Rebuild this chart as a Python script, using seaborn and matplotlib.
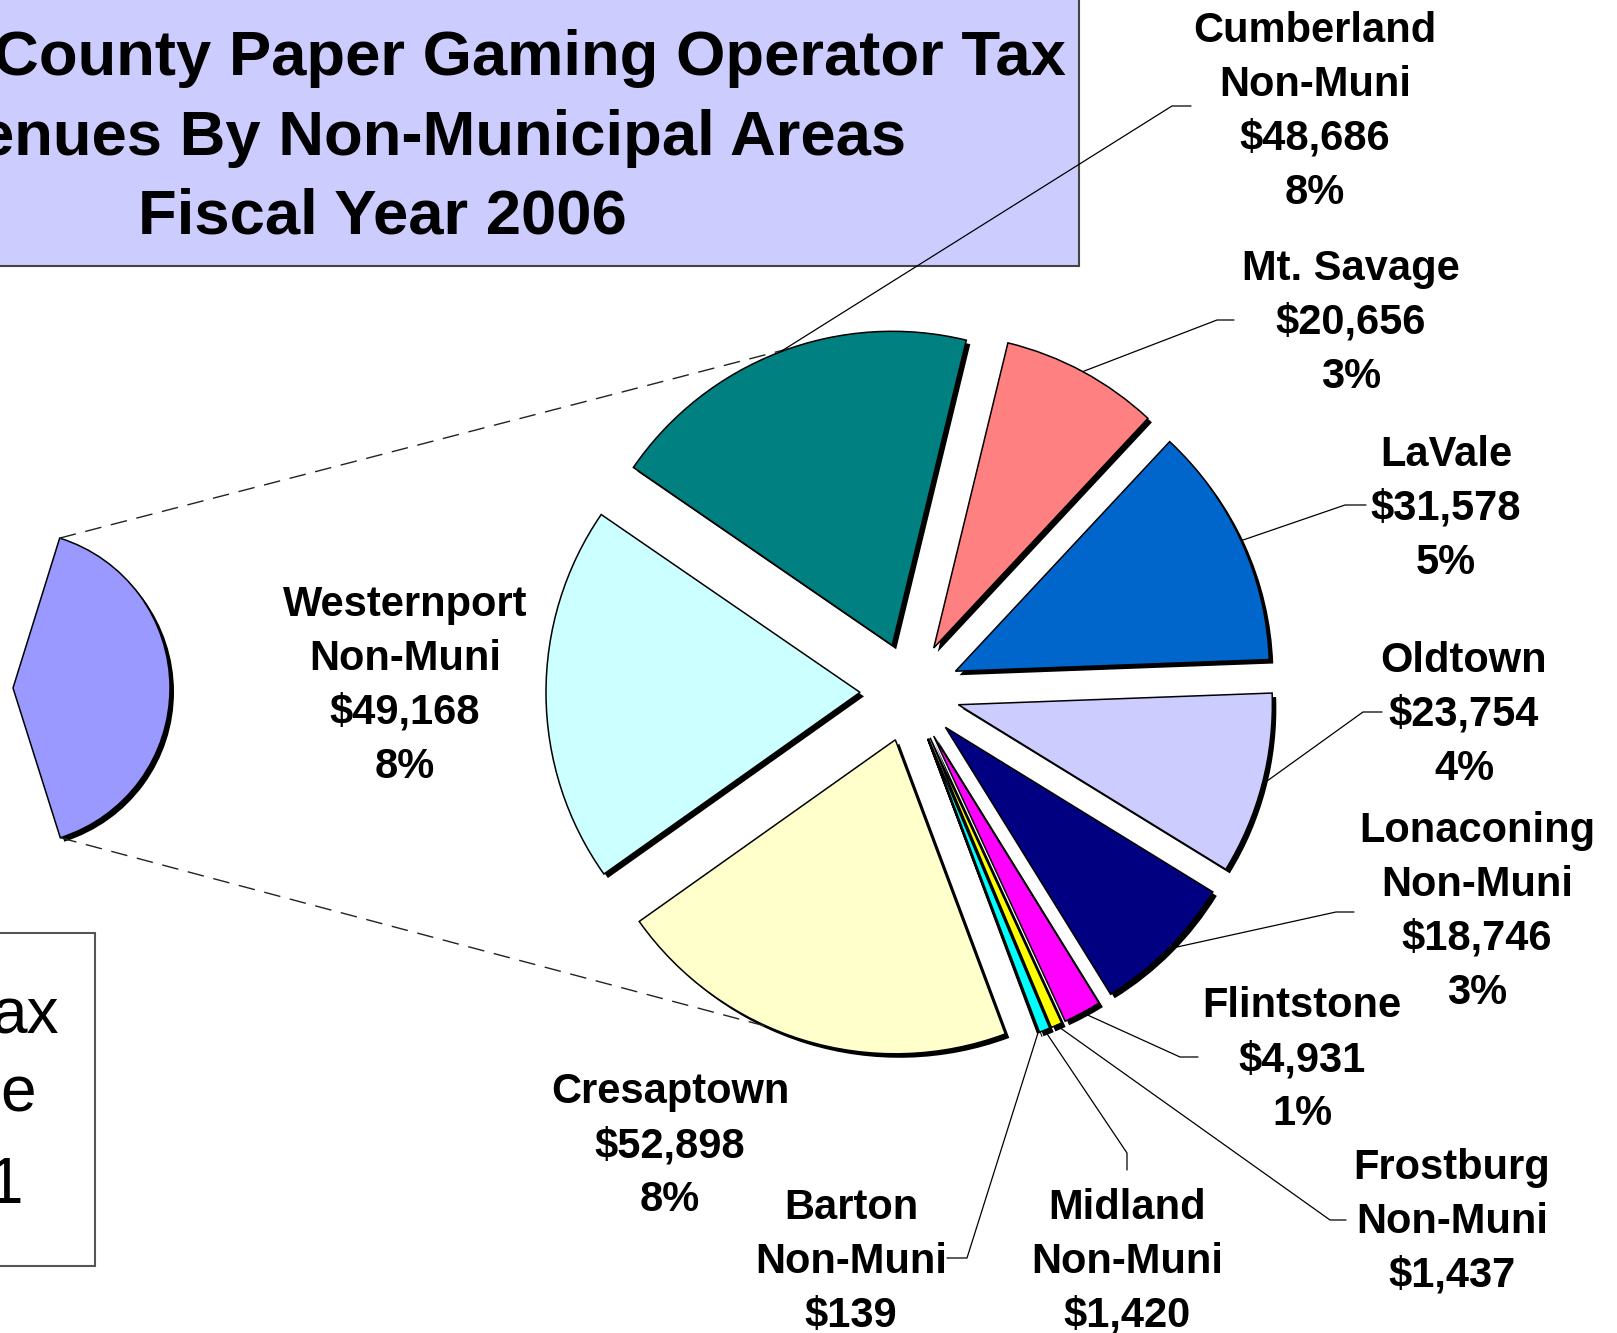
import numpy as np
import matplotlib
matplotlib.use("Agg")
import matplotlib.pyplot as plt
from matplotlib.patches import Rectangle
import seaborn as sns

# ---------------- data ----------------
names = ["Cumberland\nNon-Muni", "Mt. Savage", "LaVale", "Oldtown", "Lonaconing\nNon-Muni",
         "Flintstone", "Frostburg\nNon-Muni", "Midland\nNon-Muni", "Barton\nNon-Muni",
         "Cresaptown", "Westernport\nNon-Muni"]
values = [48686, 20656, 31578, 23754, 18746, 4931, 1437, 1420, 139, 52898, 49168]
show_pct = [True, True, True, True, True, True, False, False, False, True, True]
colors = ["#008080", "#FF8080", "#0066CC", "#CCCCFF", "#000080", "#FF00FF",
          "#FFFF00", "#00FFFF", "#800080", "#FFFFCC", "#CCFFFF"]
municipal_rest = 375000          # estimated remainder of the primary pie (not visible)
other_color = "#9999FF"

title_lines = ["County Paper Gaming Operator Tax", "enues By Non-Municipal Areas", "Fiscal Year 2006"]
side_box_lines = ["ax", "e", "1"]

# ---------------- layout ----------------
W, H = 1617, 1333
sns.set_theme(style="white")
plt.rcParams['font.family'] = ['Liberation Sans', 'DejaVu Sans']
plt.rcParams['text.color'] = 'black'

fig = plt.figure(figsize=(W / 100, H / 100), dpi=100)
ax = fig.add_axes([0, 0, 1, 1])

pie_c = (910, 692)
pie_r = 314
expl = 50
shadow = 4

# shadow of secondary pie
ax.pie(values, colors=["black"] * len(values), radius=pie_r,
       center=(pie_c[0] + shadow, pie_c[1] + shadow), startangle=-145.5,
       counterclock=True, explode=[expl] * len(values),
       wedgeprops=dict(linewidth=0), frame=True)
wedges, _ = ax.pie(values, colors=colors, radius=pie_r, center=pie_c,
                   startangle=-145.5, counterclock=True,
                   explode=[expl] * len(values),
                   wedgeprops=dict(edgecolor="black", linewidth=1.1), frame=True)

# primary pie: only the "other" slice is visible in the crop
left_c = (13, 688)
left_r = 157
sh_w, _ = ax.pie([sum(values), municipal_rest], colors=["black", "none"], radius=left_r,
                 center=(left_c[0] + shadow, left_c[1] + shadow), startangle=-72.7,
                 counterclock=True, wedgeprops=dict(linewidth=0), frame=True)
sh_w[1].set_visible(False)
lw_, _ = ax.pie([sum(values), municipal_rest], colors=[other_color, "none"], radius=left_r,
                center=left_c, startangle=-72.7, counterclock=True,
                wedgeprops=dict(edgecolor="black", linewidth=1.1), frame=True)
lw_[1].set_visible(False)

ax.set_xlim(0, W)
ax.set_ylim(H, 0)
ax.set_aspect('equal')
ax.axis('off')


def arc_point(w, ang_vis=None):
    """point on the outer arc of a wedge; angle given visually (deg, ccw)"""
    if ang_vis is None:
        th = np.deg2rad(0.5 * (w.theta1 + w.theta2))
    else:
        th = np.deg2rad(-ang_vis)
    cx, cy = w.center
    return cx + w.r * np.cos(th), cy + w.r * np.sin(th)


# connector dashed lines between the pies
o = lw_[0]
p_top = (o.center[0] + o.r * np.cos(np.deg2rad(o.theta1)),
         o.center[1] + o.r * np.sin(np.deg2rad(o.theta1)))
p_bot = (o.center[0] + o.r * np.cos(np.deg2rad(o.theta2)),
         o.center[1] + o.r * np.sin(np.deg2rad(o.theta2)))
q_top = arc_point(wedges[0], 109)
q_bot = arc_point(wedges[9], -114)
for p, q in [(p_top, q_top), (p_bot, q_bot)]:
    ax.plot([p[0], q[0]], [p[1], q[1]], color="#222222", lw=1.0,
            linestyle=(0, (12, 7)), zorder=5)

# title box
ax.add_patch(Rectangle((-10, -10), 1089, 276, facecolor="#CCCCFF",
                       edgecolor="#444444", lw=1.5, zorder=3))
ax.text(1066, 58, title_lines[0], ha="right", va="center", fontsize=45.6,
        fontweight="bold", zorder=4)
ax.text(906, 138, title_lines[1], ha="right", va="center", fontsize=45.6,
        fontweight="bold", zorder=4)
ax.text(382, 217, title_lines[2], ha="center", va="center", fontsize=45.6,
        fontweight="bold", zorder=4)

# side box (cropped)
ax.add_patch(Rectangle((-10, 933), 105, 333, facecolor="white",
                       edgecolor="#555555", lw=1.5, zorder=3))
for t, (x, y) in zip(side_box_lines, [(59, 1016), (36, 1095), (23, 1186)]):
    ax.text(x, y, t, ha="right", va="center", fontsize=46, zorder=4)

# labels
total = sum(values) + municipal_rest
label_xy = [(1315, 112), (1351, 323), (1446, 509), (1464, 715), (1477, 912),
            (1302, 1060), (1452, 1222), (1127, 1262), (851, 1262), (670, 1146),
            (405, 686)]
for name, v, sp, (x, y) in zip(names, values, show_pct, label_xy):
    s = f"{name}\n${v:,.0f}"
    if sp:
        s += f"\n{v / total * 100:.0f}%"
    ax.text(x, y, s, ha="center", va="center", fontsize=30, fontweight="bold",
            linespacing=1.45, zorder=6)

# leader lines (label side stubs)
stubs = {0: [(1191, 106), (1172, 106)], 1: [(1234, 320), (1217, 320)],
         2: [(1366, 505), (1345, 505)], 3: [(1382, 712), (1363, 712)],
         4: [(1354, 912), (1336, 912)], 5: [(1198, 1057), (1180, 1057)],
         6: [(1346, 1220), (1330, 1220)], 7: [(1127, 1170), (1127, 1153)],
         8: [(947, 1258), (967, 1258)]}
for i, pts in stubs.items():
    end = arc_point(wedges[i])
    xs = [p[0] for p in pts] + [end[0]]
    ys = [p[1] for p in pts] + [end[1]]
    ax.plot(xs, ys, color="black", lw=0.9, zorder=5)

fig.savefig("out.png", dpi=100)
